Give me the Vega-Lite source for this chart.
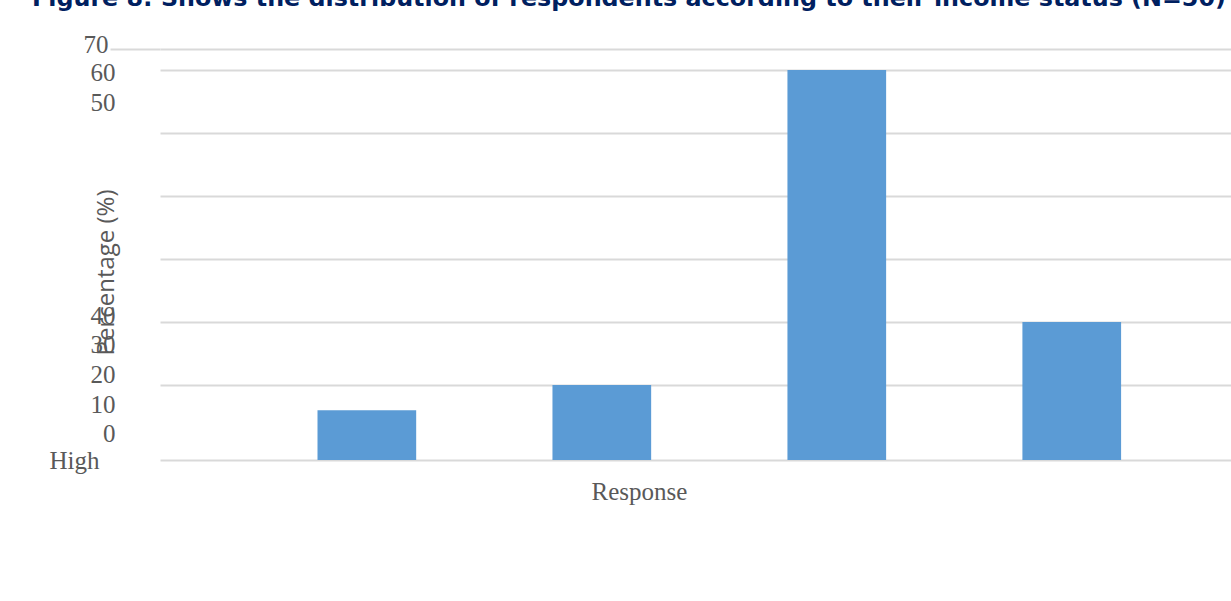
{
  "$schema": "https://vega.github.io/schema/vega-lite/v6.json",
  "width": 1071,
  "height": 416,
  "autosize": {"type": "none"},
  "padding": {"left": 160, "top": 44, "right": 0, "bottom": 141},
  "background": "white",
  "config": {"view": {"stroke": null}},
  "title": {
    "text": "Figure 8: Shows the distribution of respondents according to their income status (N=50)",
    "anchor": "start",
    "frame": "group",
    "dx": -128,
    "offset": 0,
    "dy": -2,
    "baseline": "alphabetic",
    "font": "DejaVu Sans",
    "fontSize": 23.8,
    "fontWeight": "bold",
    "color": "#002060"
  },
  "data": {
    "values": [
      {"status": "High", "percentage": 6},
      {"status": "Medium", "percentage": 10},
      {"status": "Low", "percentage": 60},
      {"status": "Very low", "percentage": 20}
    ]
  },
  "mark": {"type": "bar", "color": "#5b9bd5"},
  "encoding": {
    "x": {
      "field": "status",
      "type": "nominal",
      "sort": null,
      "scale": {"paddingInner": 0.58, "paddingOuter": 0.569, "align": 0.589},
      "axis": {
        "title": "Response",
        "labels": false,
        "ticks": false,
        "domain": false,
        "titleFont": "Liberation Serif",
        "titleFontSize": 25,
        "titleFontWeight": "normal",
        "titleColor": "#595959",
        "titleX": 479,
        "titleY": 31,
        "titleBaseline": "middle"
      }
    },
    "y": {
      "field": "percentage",
      "type": "quantitative",
      "scale": {"domain": [-1.905, 64.13], "nice": false, "zero": false},
      "axis": {
        "title": "Percentage (%)",
        "values": [-1.905, 2.38, 6.98, 11.59, 16.35, 21.11, 54.92, 59.68, 64.13, 10, 20, 30, 40, 50, 60, 63.3],
        "labelExpr": "datum.value == 64.13 ? '70' : datum.value == 59.68 ? '60' : datum.value == 54.92 ? '50' : datum.value == 21.11 ? '40' : datum.value == 16.35 ? '30' : datum.value == 11.59 ? '20' : datum.value == 6.98 ? '10' : datum.value == 2.38 ? '0' : datum.value == -1.905 ? 'High' : ''",
        "labelFont": "Liberation Serif",
        "labelFontSize": 25,
        "labelColor": "#595959",
        "labelOverlap": false,
        "labelFlush": false,
        "labelBound": false,
        "labelPadding": {"condition": [{"test": "datum.value == -1.905", "value": 11}, {"test": "datum.value == 64.13", "value": 2}], "value": -5},
        "grid": true,
        "gridColor": "#d9d9d9",
        "gridWidth": 2,
        "gridOpacity": {"condition": {"test": "indexof([-1.905, 10, 20, 30, 40, 50, 60, 63.3], datum.value) >= 0", "value": 1}, "value": 0},
        "ticks": true,
        "tickSize": 50,
        "tickColor": "#d9d9d9",
        "tickWidth": 2,
        "tickOpacity": {"condition": {"test": "datum.value == 63.3", "value": 1}, "value": 0},
        "domain": false,
        "titleFont": "Open Sans",
        "titleFontSize": 24,
        "titleFontWeight": "normal",
        "titleColor": "#595959",
        "titleX": -54,
        "titleY": 228,
        "titleBaseline": "middle",
        "titleAngle": -90
      }
    },
    "y2": {"datum": -1.905}
  }
}
